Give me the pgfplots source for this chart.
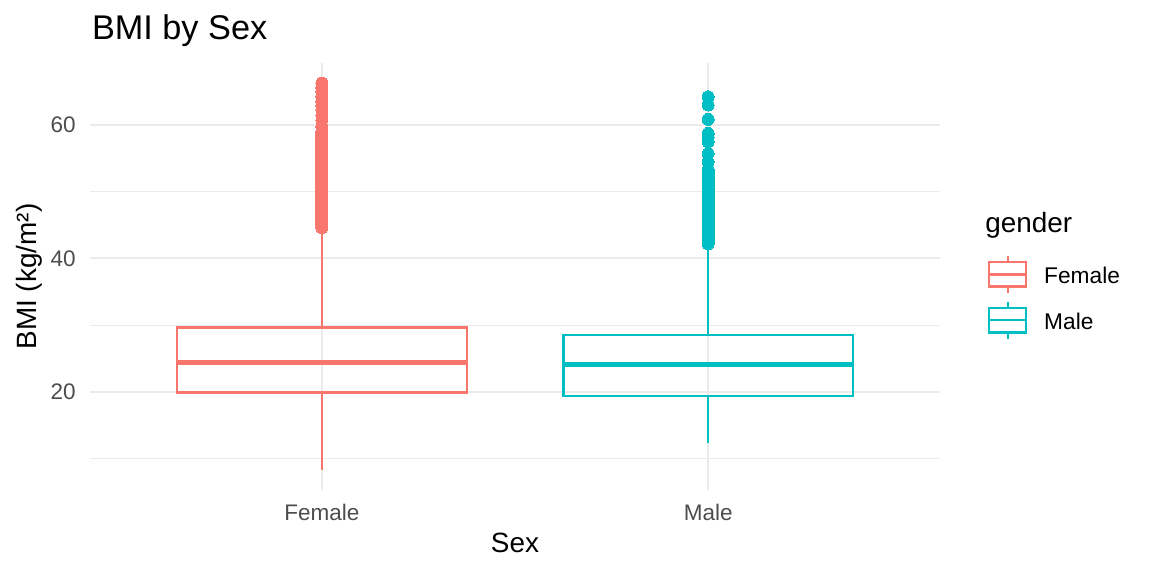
\documentclass[border=0pt]{standalone}
\usepackage{fontspec}
\setmainfont{Liberation Sans}
\usepackage{pgfplots}
\pgfplotsset{compat=1.18}
\definecolor{femc}{HTML}{F8766D}
\definecolor{malec}{HTML}{00BFC4}
\definecolor{gridc}{HTML}{EBEBEB}
\definecolor{tickc}{HTML}{4D4D4D}
\pgfplotsset{boxkey/.style={legend image code/.code={%
  \draw[##1] (0bp,-4.85bp) rectangle (18.5bp,7.45bp);
  \draw[##1] (0bp,1.3bp) -- (18.5bp,1.3bp);
  \draw[##1] (9.25bp,7.45bp) -- (9.25bp,10.5bp);
  \draw[##1] (9.25bp,-4.85bp) -- (9.25bp,-7.9bp);
  \path[draw=none,fill=none] (0bp,0bp) -- (27.5bp,0bp);
}}}
% Female box (Q1, Q3 over box width 0.75)
\pgfplotstableread{
x y
0.625 19.9
1.375 19.9
1.375 29.66
0.625 29.66
}\femalebox
% Male box
\pgfplotstableread{
x y
1.625 19.4
2.375 19.4
2.375 28.5
1.625 28.5
}\malebox
\begin{document}
\begin{tikzpicture}
\useasboundingbox (0,0) rectangle (576bp,288bp);
\begin{axis}[
  at={(45bp,43bp)}, anchor=south west,
  width=425bp, height=213.5bp, scale only axis,
  xmin=0.4, xmax=2.6, ymin=5.3, ymax=69.3,
  xtick={1,2}, xticklabels={Female,Male},
  ytick={20,40,60}, minor ytick={10,30,50},
  xmajorgrids, ymajorgrids, yminorgrids,
  major grid style={gridc, line width=1bp},
  minor grid style={gridc, line width=0.5bp},
  axis line style={draw=none},
  major tick length=0pt, minor tick length=0pt,
  tick style={draw=none},
  /pgf/number format/assume math mode=true,
  ticklabel style={font=\fontsize{11.3}{13}\selectfont, text=tickc},
  xticklabel style={anchor=base, inner sep=0pt, yshift=-15bp},
  yticklabel style={anchor=east, inner sep=0pt, xshift=-7bp},
  xlabel={Sex}, ylabel={BMI (kg/m²)},
  label style={font=\fontsize{14}{16}\selectfont, inner sep=0pt},
  xlabel style={at={(axis description cs:0.5,-0.1475)}, anchor=base},
  ylabel style={at={(axis description cs:-0.0628,0.5)}, anchor=base},
  legend style={at={(axis description cs:1.0565,0.551)}, anchor=north west,
    draw=none, fill=none, inner sep=0pt, outer sep=0pt, row sep=3.35bp,
    font=\fontsize{11.4}{13}\selectfont, nodes={inner sep=0pt}},
  legend cell align=left,
]
% Female
\addplot[femc, line width=1.2bp, line join=miter, forget plot] table {\femalebox} --cycle;
\addplot[femc, line width=2.5bp, forget plot] coordinates {(0.625,24.35) (1.375,24.35)};
\addplot[femc, line width=1.2bp, forget plot] coordinates {(1,29.66) (1,44.3)};
\addplot[femc, line width=1.2bp, forget plot] coordinates {(1,19.9) (1,8.26)};
\addplot[femc, only marks, mark=*, mark size=3bp, mark options={solid, fill=femc, draw=femc, line width=0pt}, forget plot]
table[row sep=\\] {x y\\
1 44.6\\ 1 44.9\\ 1 45.2\\ 1 45.5\\ 1 45.8\\ 1 46.1\\ 1 46.4\\ 1 46.7\\ 1 47.0\\ 1 47.3\\
1 47.6\\ 1 47.9\\ 1 48.2\\ 1 48.5\\ 1 48.8\\ 1 49.1\\ 1 49.4\\ 1 49.7\\ 1 50.0\\ 1 50.3\\
1 50.6\\ 1 50.9\\ 1 51.2\\ 1 51.5\\ 1 51.8\\ 1 52.1\\ 1 52.4\\ 1 52.7\\ 1 53.0\\ 1 53.3\\
1 53.6\\ 1 53.9\\ 1 54.2\\ 1 54.5\\ 1 54.8\\ 1 55.1\\ 1 55.4\\ 1 55.7\\ 1 56.0\\ 1 56.3\\
1 56.6\\ 1 56.9\\ 1 57.2\\ 1 57.5\\ 1 57.8\\ 1 58.1\\ 1 58.4\\ 1 58.7\\ 1 59.0\\ 1 59.75\\
1 60.75\\ 1 61.5\\ 1 62.25\\ 1 62.9\\ 1 63.5\\ 1 64.3\\ 1 65.0\\ 1 65.6\\ 1 66.3\\
};
% Male
\addplot[malec, line width=1.2bp, line join=miter, forget plot] table {\malebox} --cycle;
\addplot[malec, line width=2.5bp, forget plot] coordinates {(1.625,24.15) (2.375,24.15)};
\addplot[malec, line width=1.2bp, forget plot] coordinates {(2,28.5) (2,42.0)};
\addplot[malec, line width=1.2bp, forget plot] coordinates {(2,19.4) (2,12.35)};
\addplot[malec, only marks, mark=*, mark size=3bp, mark options={solid, fill=malec, draw=malec, line width=0pt}, forget plot]
table[row sep=\\] {x y\\
2 42.2\\ 2 42.5\\ 2 42.8\\ 2 43.1\\ 2 43.4\\ 2 43.7\\ 2 44.0\\ 2 44.3\\ 2 44.6\\ 2 44.9\\
2 45.2\\ 2 45.5\\ 2 45.8\\ 2 46.1\\ 2 46.4\\ 2 46.7\\ 2 47.0\\ 2 47.3\\ 2 47.6\\ 2 47.9\\
2 48.2\\ 2 48.5\\ 2 48.8\\ 2 49.1\\ 2 49.4\\ 2 49.7\\ 2 50.0\\ 2 50.3\\ 2 50.6\\ 2 50.9\\
2 51.2\\ 2 51.5\\ 2 51.8\\ 2 52.1\\ 2 52.4\\ 2 52.7\\ 2 53.0\\ 2 53.3\\ 2 54.5\\ 2 55.75\\
2 57.5\\ 2 58.2\\ 2 58.75\\ 2 60.85\\ 2 63.0\\ 2 64.25\\
};
\addlegendimage{boxkey, draw=femc, line width=1.2bp}
\addlegendentry{Female}
\addlegendimage{boxkey, draw=malec, line width=1.2bp}
\addlegendentry{Male}
\end{axis}
\node[anchor=base west, font=\fontsize{17.2}{20}\selectfont, inner sep=0pt] at (45.8bp,268.3bp) {BMI by Sex};
\node[anchor=base west, font=\fontsize{14}{16}\selectfont, inner sep=0pt] at (492.5bp,171.5bp) {gender};
\end{tikzpicture}
\end{document}
